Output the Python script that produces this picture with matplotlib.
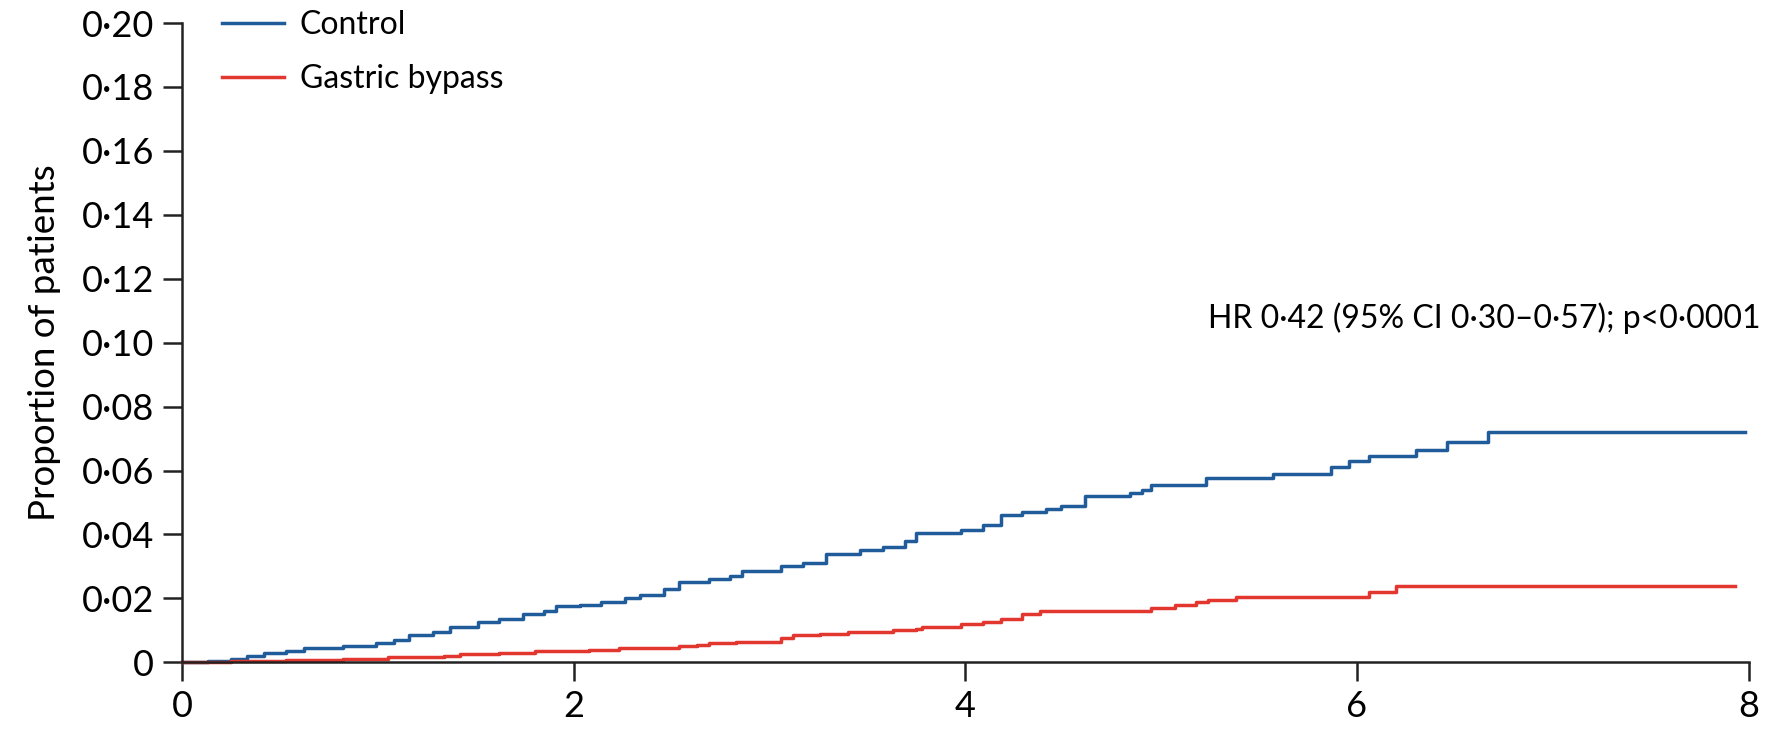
import matplotlib
matplotlib.use('Agg')
import matplotlib.pyplot as plt

# step curves (time in years, cumulative proportion)
control_t = [0, 0.13, 0.25, 0.33, 0.42, 0.53, 0.62, 0.82, 0.99, 1.08,
             1.16, 1.28, 1.37, 1.51, 1.62, 1.74, 1.85, 1.91, 2.03, 2.14,
             2.26, 2.34, 2.46, 2.54, 2.69, 2.80, 2.86, 3.06, 3.17, 3.29,
             3.46, 3.58, 3.69, 3.75, 3.98, 4.09, 4.18, 4.29, 4.41, 4.49,
             4.61, 4.84, 4.90, 4.95, 5.23, 5.57, 5.87, 5.96, 6.06, 6.30,
             6.46, 6.67, 7.98]
control_p = [0, 0.0005, 0.001, 0.002, 0.003, 0.0035, 0.0045, 0.005, 0.006, 0.007,
             0.0085, 0.0095, 0.011, 0.0125, 0.0135, 0.015, 0.016, 0.0175, 0.018, 0.019,
             0.020, 0.021, 0.023, 0.025, 0.026, 0.027, 0.0285, 0.030, 0.031, 0.034,
             0.035, 0.036, 0.038, 0.0405, 0.0415, 0.043, 0.046, 0.047, 0.048, 0.049,
             0.052, 0.053, 0.054, 0.0555, 0.0575, 0.059, 0.061, 0.063, 0.0645, 0.0665,
             0.069, 0.072, 0.072]

bypass_t = [0, 0.25, 0.53, 0.82, 1.05, 1.34, 1.42, 1.62, 1.80, 2.08,
            2.23, 2.54, 2.63, 2.69, 2.83, 3.06, 3.12, 3.26, 3.40, 3.63,
            3.75, 3.78, 3.98, 4.09, 4.18, 4.29, 4.38, 4.95, 5.07, 5.18,
            5.24, 5.38, 6.06, 6.20, 7.93]
bypass_p = [0, 0.0003, 0.0008, 0.001, 0.0015, 0.002, 0.0025, 0.003, 0.0035, 0.004,
            0.0045, 0.005, 0.0055, 0.006, 0.0065, 0.0075, 0.0085, 0.009, 0.0095, 0.010,
            0.0105, 0.011, 0.012, 0.0125, 0.0135, 0.015, 0.016, 0.017, 0.018, 0.019,
            0.0195, 0.0205, 0.022, 0.024, 0.024]

x_ticks = [0, 2, 4, 6, 8]
y_ticks = [0, 0.02, 0.04, 0.06, 0.08, 0.10, 0.12, 0.14, 0.16, 0.18, 0.20]
y_ticklabels = ['0', '0·02', '0·04', '0·06', '0·08', '0·10',
                '0·12', '0·14', '0·16', '0·18', '0·20']
hr_text = 'HR 0·42 (95% CI 0·30–0·57); p<0·0001'

plt.rcParams['font.family'] = ['Lato', 'DejaVu Sans']
fs = 23

fig = plt.figure(figsize=(17.68, 7.31), dpi=100)
ax = fig.add_axes([0.103, 0.094, 0.886, 0.8745])

ax.step(control_t, control_p, where='post', color='#1f5c99', lw=2.5, label='Control', clip_on=False)
ax.step(bypass_t, bypass_p, where='post', color='#e2372f', lw=2.5, label='Gastric bypass', clip_on=False)

ax.set_xlim(0, 8)
ax.set_ylim(0, 0.20)
ax.set_xticks(x_ticks)
ax.set_xticklabels([str(t) for t in x_ticks])
ax.set_yticks(y_ticks)
ax.set_yticklabels(y_ticklabels)
ax.tick_params(labelsize=26, length=14, width=1.8, color='#222222', pad=6)
for s in ['top', 'right']:
    ax.spines[s].set_visible(False)
for s in ['left', 'bottom']:
    ax.spines[s].set_linewidth(1.8)
    ax.spines[s].set_color('#222222')

ax.set_ylabel('Proportion of patients', fontsize=26.5, labelpad=15)

ax.text(8.06, 0.1075, hr_text, ha='right', va='center', fontsize=fs)

ax.legend(loc='upper left', bbox_to_anchor=(0.015, 1.045), frameon=False, fontsize=fs,
          handlelength=1.95, handletextpad=0.5, labelspacing=0.75, borderpad=0)

fig.savefig('out.png', dpi=100)
